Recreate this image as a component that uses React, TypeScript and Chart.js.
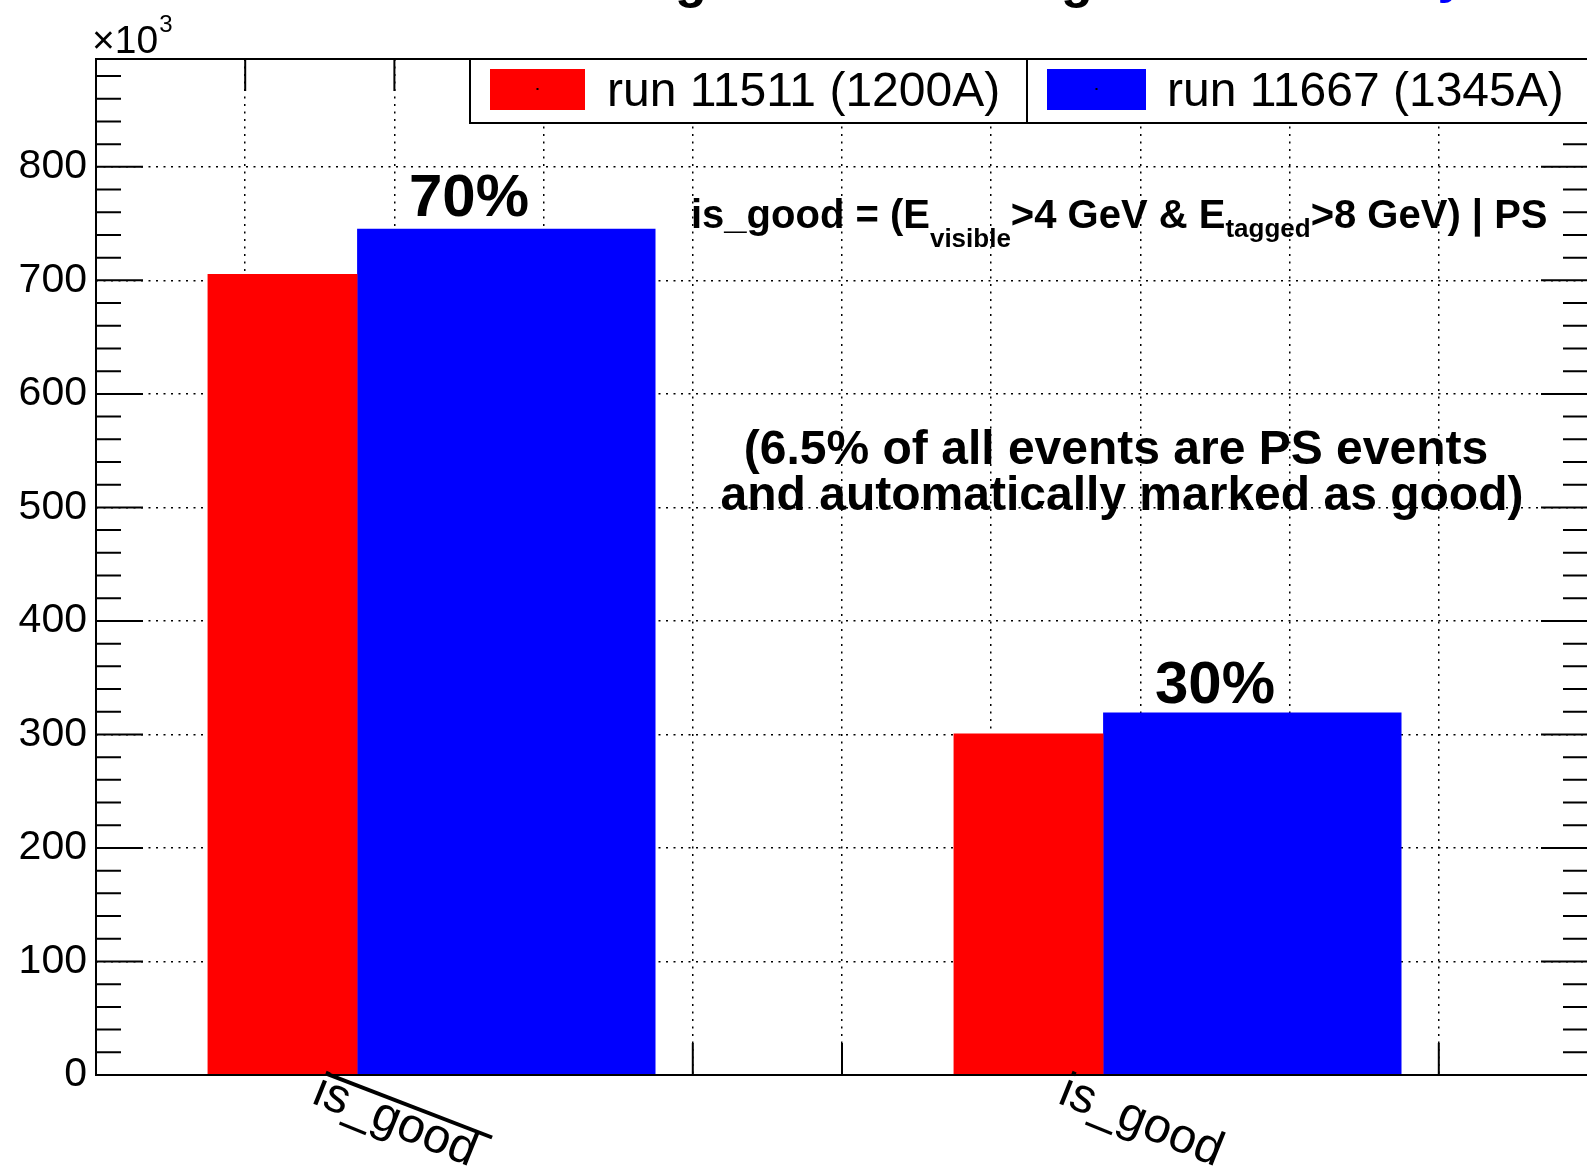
import React, { useEffect, useRef } from "react";
import { Chart, registerables } from "chart.js";

Chart.register(...registerables);

// ---- data ----
const categories = ["is_good", "is_good"];
const categoryOverline = [true, false];
const seriesNames = ["run 11511 (1200A)", "run 11667 (1345A)"];
const seriesColors = ["#ff0000", "#0000ff"];
const run11511 = [705.4, 300.6];
const run11667 = [745.4, 319.4];
const barOffsets = [0.15, 0.35];
const barWidths = [0.2, 0.4];
const percentLabels = ["70%", "30%"];
const percentLabelY = [757, 328];
const yTickValues = [0, 100, 200, 300, 400, 500, 600, 700, 800];
const noteLines = ["(6.5% of all events are PS events", "and automatically marked as good)"];

const Y_MAX = 895;
const Y_MINOR = 20;
const Y_MAJOR = 100;
const BIN_WIDTH = 5;
const X_MAX = 10;
const X_STEP = 1;

const CANVAS_W = 1600;
const CANVAS_H = 1173;
const FONT = '"Liberation Sans", Arial, Helvetica, sans-serif';

const decorations = {
  id: "rootDecorations",
  beforeDatasetsDraw(chart: any) {
    const { ctx, chartArea: a, scales } = chart;
    const x = scales.x;
    const y = scales.y;
    ctx.save();
    ctx.strokeStyle = "#000";
    ctx.lineWidth = 2;
    ctx.beginPath();
    for (let v = 0; v <= Y_MAX; v += Y_MINOR) {
      const py = y.getPixelForValue(v);
      const len = v % Y_MAJOR === 0 ? 47 : 25;
      ctx.moveTo(a.left, py);
      ctx.lineTo(a.left + len, py);
      ctx.moveTo(a.right, py);
      ctx.lineTo(a.right - len, py);
    }
    for (let v = 0; v <= X_MAX; v += X_STEP) {
      const px = x.getPixelForValue(v);
      ctx.moveTo(px, a.top);
      ctx.lineTo(px, a.top + 32);
      ctx.moveTo(px, a.bottom);
      ctx.lineTo(px, a.bottom - 32);
    }
    ctx.stroke();
    ctx.restore();
  },
  afterDatasetsDraw(chart: any) {
    const { ctx, chartArea: a, scales } = chart;
    const x = scales.x;
    const y = scales.y;
    ctx.save();
    // frame
    ctx.strokeStyle = "#000";
    ctx.lineWidth = 2;
    ctx.strokeRect(a.left, a.top, a.right - a.left, a.bottom - a.top);

    ctx.fillStyle = "#000";
    // percent labels above bins
    ctx.font = `bold 60px ${FONT}`;
    ctx.textAlign = "center";
    ctx.textBaseline = "alphabetic";
    percentLabels.forEach((t, i) => {
      const px = x.getPixelForValue(i * BIN_WIDTH + BIN_WIDTH / 2);
      ctx.fillText(t, px, y.getPixelForValue(percentLabelY[i]));
    });

    // formula line
    const pieces: [string, number, number][] = [
      ["is_good = (E", 40, 228],
      ["visible", 26, 247],
      [">4 GeV & E", 40, 228],
      ["tagged", 26, 237],
      [">8 GeV) | PS", 40, 228],
    ];
    ctx.textAlign = "left";
    let cx = 691;
    for (const [t, size, base] of pieces) {
      ctx.font = `bold ${size}px ${FONT}`;
      ctx.fillText(t, cx, base);
      cx += ctx.measureText(t).width;
    }

    // note
    ctx.font = `bold 48px ${FONT}`;
    ctx.textAlign = "center";
    ctx.fillText(noteLines[0], 1116, 464);
    ctx.fillText(noteLines[1], 1122, 510);

    // x bin labels (rotated)
    ctx.font = `49px ${FONT}`;
    categories.forEach((lab, i) => {
      const px = x.getPixelForValue(i * BIN_WIDTH + BIN_WIDTH / 2) - 74;
      ctx.save();
      ctx.translate(px, 1122);
      ctx.rotate((22 * Math.PI) / 180);
      ctx.textAlign = "center";
      ctx.textBaseline = "middle";
      ctx.fillText(lab, 0, 0);
      if (categoryOverline[i]) {
        const w = ctx.measureText(lab).width;
        ctx.lineWidth = 4;
        ctx.beginPath();
        ctx.moveTo(-w / 2 + 4, -19);
        ctx.lineTo(w / 2 + 10, -22);
        ctx.stroke();
      }
      ctx.restore();
    });

    // x10^3
    ctx.textAlign = "left";
    ctx.font = `39px ${FONT}`;
    ctx.fillText("\u00d710", 92, 53);
    const w10 = ctx.measureText("\u00d710").width;
    ctx.font = `24px ${FONT}`;
    ctx.fillText("3", 92 + w10 + 1, 32);

    // legend box
    const lx = 470, ly = a.top, lb = 123, divX = 1027;
    ctx.fillStyle = "#fff";
    ctx.fillRect(lx, ly, a.right - lx, lb - ly);
    ctx.strokeStyle = "#000";
    ctx.lineWidth = 2;
    ctx.strokeRect(lx, ly, a.right - lx, lb - ly);
    ctx.beginPath();
    ctx.moveTo(divX, ly);
    ctx.lineTo(divX, lb);
    ctx.stroke();
    const sw = [[490, 585], [1047, 1146]];
    const tx = [607, 1167];
    ctx.font = `48px ${FONT}`;
    seriesNames.forEach((n, s) => {
      ctx.fillStyle = seriesColors[s];
      ctx.fillRect(sw[s][0], 69, sw[s][1] - sw[s][0], 41);
      ctx.fillStyle = "#000";
      ctx.fillRect((sw[s][0] + sw[s][1]) / 2 - 1, 88, 2, 2);
      ctx.fillText(n, tx[s], 106);
    });

    // title glyph remnants (title sits above the visible area)
    ctx.font = `bold 52px ${FONT}`;
    ctx.textAlign = "center";
    ctx.fillStyle = "#000";
    ctx.fillText("g", 691, -3);
    ctx.fillText("g", 1077, -3);
    ctx.fillStyle = "#0000ff";
    ctx.fillText("y", 1452, -8);
    ctx.restore();
  },
};

export default function App() {
  const ref = useRef<HTMLCanvasElement | null>(null);
  useEffect(() => {
    if (!ref.current) return;
    const seriesVals = [run11511, run11667];
    const datasets = seriesVals.map((vals, s) => ({
      label: seriesNames[s],
      data: vals.map((v, i) => ({
        x: i * BIN_WIDTH + BIN_WIDTH * (barOffsets[s] + barWidths[s] / 2),
        y: v,
      })),
      backgroundColor: seriesColors[s],
      borderWidth: 0,
      grouped: false,
      categoryPercentage: 1,
      barPercentage: (barWidths[s] * BIN_WIDTH) / X_STEP,
    }));
    const chart = new Chart(ref.current, {
      type: "bar",
      data: { datasets } as any,
      options: {
        animation: false,
        responsive: false,
        maintainAspectRatio: false,
        layout: { padding: { left: 0, top: 59, right: CANVAS_W - 1588, bottom: 0 } },
        plugins: {
          legend: { display: false },
          tooltip: { enabled: false },
          title: { display: false },
        },
        scales: {
          x: {
            type: "linear",
            offset: false,
            min: 0,
            max: X_MAX,
            ticks: { display: false, stepSize: X_STEP },
            grid: { color: "#000", lineWidth: 1.5, drawTicks: false, offset: false },
            border: { display: false, dash: [2, 5.5] },
            afterFit: (s: any) => {
              s.height = 98;
            },
          },
          y: {
            type: "linear",
            min: 0,
            max: Y_MAX,
            afterBuildTicks: (s: any) => {
              s.ticks = yTickValues.map((v) => ({ value: v }));
            },
            ticks: {
              color: "#000",
              padding: 9,
              font: { family: FONT, size: 41 },
              callback: (v: any) => String(v),
            },
            grid: { color: "#000", lineWidth: 1.5, drawTicks: false },
            border: { display: false, dash: [2, 5.5] },
            afterFit: (s: any) => {
              s.width = 96;
            },
          },
        },
      } as any,
      plugins: [decorations],
    });
    return () => chart.destroy();
  }, []);
  return (
    <div
      style={{
        position: "fixed",
        left: 0,
        top: 0,
        width: 1587,
        height: 1173,
        overflow: "hidden",
        background: "#fff",
      }}
    >
      <canvas ref={ref} width={CANVAS_W} height={CANVAS_H} style={{ display: "block" }} />
    </div>
  );
}
